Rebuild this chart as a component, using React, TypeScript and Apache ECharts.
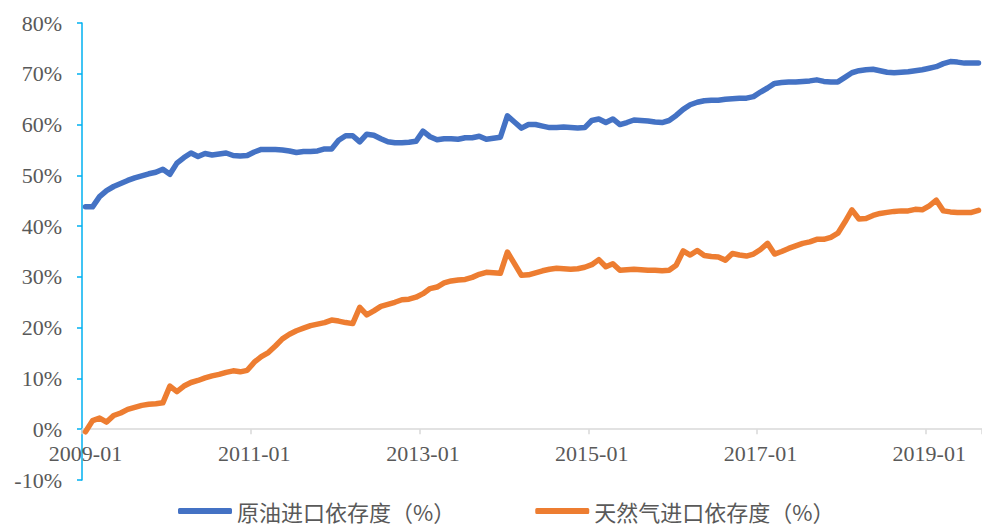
import React, { useEffect, useRef } from "react";
import * as echarts from "echarts";

const startYear = 2009;
const monthCount = 128;
const months: string[] = [];
for (let k = 0; k < monthCount; k++) {
  const y = startYear + Math.floor(k / 12);
  const m = (k % 12) + 1;
  months.push(`${y}-${m < 10 ? "0" + m : m}`);
}

const seriesNames = ["原油进口依存度（%）", "天然气进口依存度（%）"];

const crudeOil = [
  43.8, 43.8, 45.8, 47.0, 47.8, 48.4, 49.0, 49.5, 49.9, 50.3, 50.6, 51.2,
  50.2, 52.4, 53.5, 54.4, 53.7, 54.3, 54.0, 54.2, 54.4, 53.9, 53.8, 53.9,
  54.6, 55.1, 55.1, 55.1, 55.0, 54.8, 54.5, 54.7, 54.7, 54.8, 55.2, 55.2,
  56.9, 57.8, 57.8, 56.6, 58.1, 57.9, 57.2, 56.6, 56.4, 56.4, 56.5, 56.7,
  58.7, 57.6, 57.0, 57.2, 57.2, 57.1, 57.4, 57.4, 57.7, 57.1, 57.3, 57.5,
  61.7, 60.5, 59.3, 60.0, 60.0, 59.7, 59.4, 59.4, 59.5, 59.4, 59.3, 59.4,
  60.8, 61.1, 60.4, 61.1, 60.0, 60.4, 60.9, 60.8, 60.7, 60.5, 60.4, 60.8,
  61.8, 63.0, 63.9, 64.4, 64.7, 64.8, 64.8, 65.0, 65.1, 65.2, 65.2, 65.5,
  66.4, 67.2, 68.1, 68.3, 68.4, 68.4, 68.5, 68.6, 68.8, 68.5, 68.4, 68.4,
  69.3, 70.2, 70.6, 70.8, 70.9, 70.6, 70.3, 70.2, 70.3, 70.4, 70.6, 70.8,
  71.1, 71.4, 72.0, 72.4, 72.3, 72.1, 72.1, 72.1,
];

const naturalGas = [
  -0.5, 1.7, 2.2, 1.4, 2.7, 3.2, 3.9, 4.3, 4.7, 4.9, 5.0, 5.2,
  8.5, 7.4, 8.5, 9.2, 9.6, 10.1, 10.5, 10.8, 11.2, 11.5, 11.3, 11.6,
  13.2, 14.3, 15.1, 16.4, 17.8, 18.7, 19.4, 19.9, 20.4, 20.7, 21.0, 21.5,
  21.3, 21.0, 20.8, 24.0, 22.5, 23.3, 24.2, 24.6, 25.0, 25.5, 25.6, 26.0,
  26.7, 27.7, 28.0, 28.8, 29.2, 29.4, 29.5, 29.9, 30.5, 30.9, 30.8, 30.7,
  34.9, 32.6, 30.3, 30.4, 30.8, 31.2, 31.5, 31.7, 31.6, 31.5, 31.6, 31.9,
  32.4, 33.4, 32.0, 32.6, 31.3, 31.4, 31.5, 31.4, 31.3, 31.3, 31.2, 31.3,
  32.3, 35.1, 34.3, 35.2, 34.2, 34.0, 33.9, 33.3, 34.6, 34.3, 34.1, 34.5,
  35.4, 36.6, 34.5, 35.0, 35.6, 36.1, 36.6, 36.9, 37.4, 37.4, 37.8, 38.6,
  40.8, 43.2, 41.4, 41.5, 42.1, 42.5, 42.7, 42.9, 43.0, 43.0, 43.3, 43.2,
  44.0, 45.1, 43.0, 42.8, 42.7, 42.7, 42.7, 43.1,
];

const yMin = -10;
const yMax = 80;
const yStep = 10;

const gridTop = 23;
const gridBottom = 46;
const chartHeight = 526;

export default function App() {
  const ref = useRef<HTMLDivElement>(null);
  useEffect(() => {
    document.body.style.margin = "0";
    if (!ref.current) return;
    const chart = echarts.init(ref.current, undefined, { renderer: "svg" });
    const serif = "'Liberation Serif', 'Times New Roman', serif";
    const plotH = chartHeight - gridTop - gridBottom;
    const zeroOffset = (plotH * (0 - yMin)) / (yMax - yMin);
    chart.setOption({
      animation: false,
      backgroundColor: "#ffffff",
      grid: { left: 82, right: 0, top: gridTop, bottom: gridBottom, containLabel: false },
      legend: {
        left: 178,
        top: 500,
        padding: 0,
        itemGap: 80,
        itemWidth: 54,
        itemHeight: 6,
        icon: "roundRect",
        textStyle: {
          fontFamily: "'Noto Sans CJK SC', sans-serif",
          fontSize: 22,
          lineHeight: 22,
          color: "#595959",
        },
        data: seriesNames,
      },
      xAxis: {
        type: "category",
        data: months,
        boundaryGap: true,
        offset: -zeroOffset,
        axisLine: { onZero: false, lineStyle: { color: "#D9D9D9", width: 1.5 } },
        axisTick: { show: true, interval: 23, length: 5, lineStyle: { color: "#D9D9D9", width: 1.5 } },
        axisLabel: {
          interval: 23,
          fontFamily: serif,
          fontSize: 22,
          color: "#595959",
          margin: 13,
        },
        splitLine: { show: false },
      },
      yAxis: {
        type: "value",
        min: yMin,
        max: yMax,
        interval: yStep,
        axisLine: { show: true, lineStyle: { color: "#00B0F0", width: 1.5 } },
        axisTick: { show: true, length: 5, lineStyle: { color: "#00B0F0", width: 1.5 } },
        axisLabel: {
          formatter: "{value}%",
          fontFamily: serif,
          fontSize: 22,
          color: "#595959",
          margin: 20,
        },
        splitLine: { show: false },
      },
      series: [
        {
          name: seriesNames[0],
          type: "line",
          data: crudeOil,
          showSymbol: false,
          color: "#4472C4",
          lineStyle: { width: 5.5, color: "#4472C4", join: "round", cap: "round" },
        },
        {
          name: seriesNames[1],
          type: "line",
          data: naturalGas,
          showSymbol: false,
          color: "#ED7D31",
          lineStyle: { width: 5.5, color: "#ED7D31", join: "round", cap: "round" },
        },
      ],
    });
    return () => chart.dispose();
  }, []);
  return <div ref={ref} style={{ width: 982, height: 526 }} />;
}
